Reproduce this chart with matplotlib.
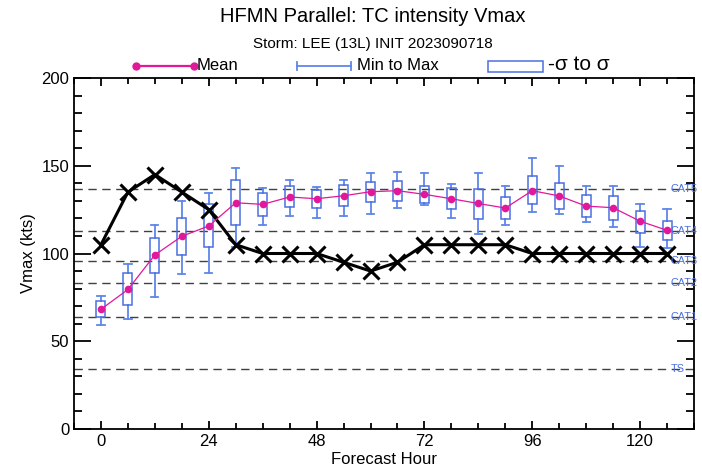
import matplotlib
matplotlib.use('Agg')
import matplotlib.pyplot as plt
from matplotlib.lines import Line2D
from matplotlib.patches import Rectangle
from matplotlib.ticker import MultipleLocator

plt.rcParams['font.family'] = ['Liberation Sans', 'DejaVu Sans']

# forecast hours and ensemble stats
hours = [0, 6, 12, 18, 24, 30, 36, 42, 48, 54, 60, 66, 72, 78, 84, 90, 96, 102, 108, 114, 120, 126]
mean_v = [68.2, 79.5, 99.2, 109.8, 115.7, 128.9, 128.0, 132.2, 131.2, 132.9, 135.2, 135.8,
          133.7, 131.2, 128.5, 125.9, 135.8, 132.8, 127.0, 126.1, 118.4, 113.2]
sig_lo = [63.6, 70.5, 88.9, 99.2, 103.5, 116.5, 121.3, 126.3, 126.2, 126.8, 129.3, 130.1,
          128.9, 125.1, 119.9, 119.9, 128.0, 125.3, 120.7, 119.3, 111.9, 107.5]
sig_hi = [73.2, 88.7, 109.0, 120.0, 128.4, 141.6, 134.4, 138.3, 136.0, 138.9, 140.6, 141.2,
          138.7, 137.2, 136.8, 132.0, 143.9, 140.0, 133.1, 132.9, 124.5, 118.4]
min_v = [59.0, 62.8, 75.1, 88.1, 88.9, 103.5, 116.3, 121.3, 120.5, 121.3, 122.4, 125.7,
         127.4, 120.5, 111.3, 116.3, 123.4, 122.4, 117.7, 115.3, 103.8, 103.3]
max_v = [76.0, 94.0, 116.3, 129.7, 134.7, 148.7, 137.5, 141.6, 137.8, 141.6, 145.8, 146.7,
         145.8, 139.5, 145.8, 138.5, 154.6, 149.9, 138.5, 138.5, 128.3, 125.3]
# official forecast (black X line)
ofcl = [105, 135, 145, 135, 125, 105, 100, 100, 100, 95, 90, 95,
        105, 105, 105, 105, 100, 100, 100, 100, 100, 100]

# Saffir-Simpson thresholds
cat_names = ['TS', 'CAT1', 'CAT2', 'CAT3', 'CAT4', 'CAT5']
cat_vals = [34, 64, 83, 96, 113, 137]

blue = '#4a6fe0'
blue_lt = '#5f86ea'
pink = '#e3179a'

fig = plt.figure(figsize=(7.02, 4.70), dpi=100)
ax = fig.add_axes([74/702, 1-429/470, 620/702, 351/470])

for name, v in zip(cat_names, cat_vals):
    ax.axhline(v, color='0.25', lw=1.0, dashes=(6, 4), zorder=1)
for name, v in zip(cat_names, cat_vals):
    ax.text(126.8, v, name, color=blue, fontsize=7.8, ha='left', va='center',
            zorder=6, clip_on=False)

# min to max whiskers + sigma boxes
bw = 2.0
cw = 1.6
for h, lo, hi, s0, s1 in zip(hours, min_v, max_v, sig_lo, sig_hi):
    ax.plot([h, h], [lo, s0], color=blue_lt, lw=1.3, zorder=2)
    ax.plot([h, h], [s1, hi], color=blue_lt, lw=1.3, zorder=2)
    ax.plot([h - cw/2, h + cw/2], [lo, lo], color=blue_lt, lw=1.3, zorder=2)
    ax.plot([h - cw/2, h + cw/2], [hi, hi], color=blue_lt, lw=1.3, zorder=2)
    ax.add_patch(Rectangle((h - bw/2, s0), bw, s1 - s0, fill=False,
                           edgecolor=blue, lw=1.1, zorder=3))

ax.plot(hours, ofcl, color='black', lw=2.2, marker='x', markersize=12,
        markeredgewidth=2.2, zorder=4)
ax.plot(hours, mean_v, color=pink, lw=0.9, marker='o', markersize=5.5,
        markeredgewidth=0, zorder=5)

ax.set_xlim(-6, 132)
ax.set_ylim(0, 200)
ax.xaxis.set_major_locator(MultipleLocator(24))
ax.xaxis.set_minor_locator(MultipleLocator(6))
ax.yaxis.set_major_locator(MultipleLocator(50))
ax.yaxis.set_minor_locator(MultipleLocator(10))
ax.tick_params(which='both', direction='in', top=True, right=True, labelsize=12, width=1.3)
ax.tick_params(axis='y', which='major', length=12)
ax.tick_params(axis='y', which='minor', length=6)
ax.tick_params(axis='x', which='major', length=6)
ax.tick_params(axis='x', which='minor', length=4)
for sp in ax.spines.values():
    sp.set_linewidth(1.3)
ax.set_xlabel('Forecast Hour', fontsize=12, labelpad=2)
ax.set_ylabel('Vmax (kts)', fontsize=12, labelpad=4)

fig.text(373/702, 1-17/470, 'HFMN Parallel: TC intensity Vmax', fontsize=14.5,
         ha='center', va='center')
fig.text(373/702, 1-44/470, 'Storm: LEE (13L) INIT 2023090718', fontsize=11,
         ha='center', va='center')

# legend row
ly = 1 - 66/470
fig.add_artist(Line2D([136/702, 194/702], [ly, ly], color=pink, lw=1.6, marker='o',
                      markersize=5, transform=fig.transFigure))
fig.text(197/702, ly, 'Mean', fontsize=12, ha='left', va='center')
fig.add_artist(Line2D([297/702, 351/702], [ly, ly], color=blue_lt, lw=1.3,
                      transform=fig.transFigure))
for xx in (297, 351):
    fig.add_artist(Line2D([xx/702, xx/702], [ly - 4/470, ly + 4/470], color=blue_lt,
                          lw=1.3, transform=fig.transFigure))
fig.text(357/702, ly, 'Min to Max', fontsize=12, ha='left', va='center')
fig.add_artist(Rectangle((488/702, ly - 5.5/470), 55/702, 11/470, fill=False, edgecolor=blue,
                         lw=1.1, transform=fig.transFigure))
fig.text(548/702, ly + 1/470, '-σ to σ', fontsize=15, ha='left', va='center')

fig.savefig('out.png', dpi=100)
